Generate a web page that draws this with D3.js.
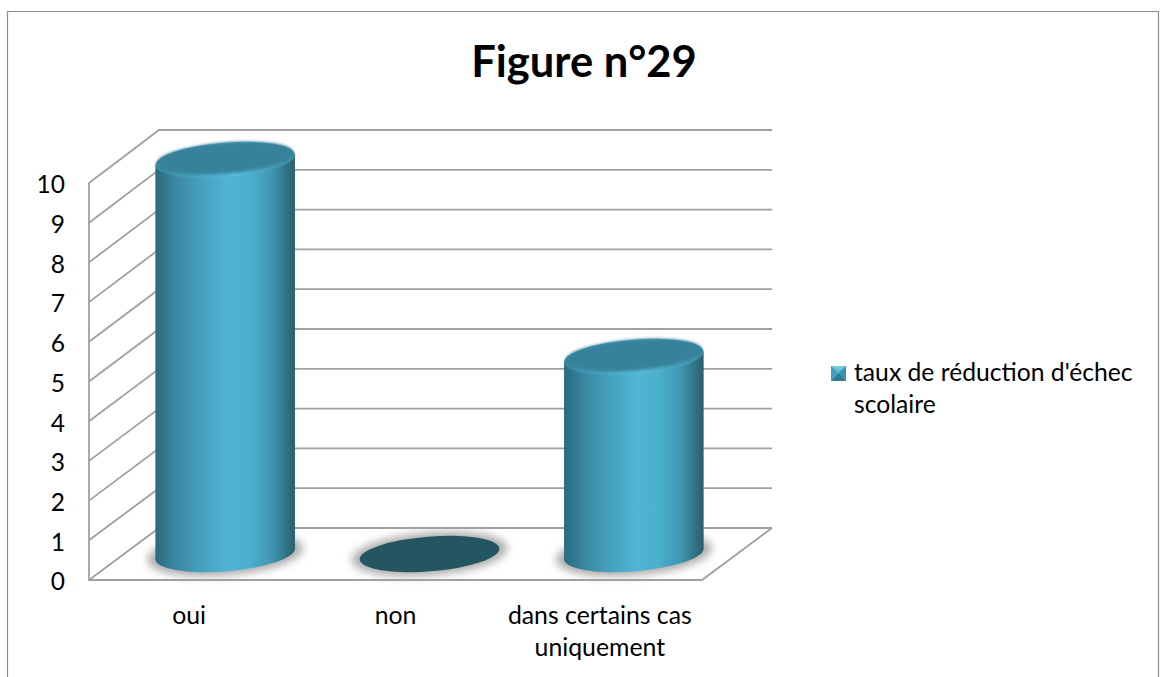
<!DOCTYPE html>
<html><head><meta charset="utf-8">
<script src="https://cdn.jsdelivr.net/npm/d3@7/dist/d3.min.js"></script>
<style>html,body{margin:0;padding:0;background:#fff}svg{display:block}text{font-family:Lato,"Open Sans",sans-serif;fill:#000}</style>
</head><body><svg id="c" width="1160" height="677"></svg>
<script>
const titleText = "Figure n°29";
const categories = ["oui", "non", "dans certains cas uniquement"];
const categoryLines = [["oui"], ["non"], ["dans certains cas", "uniquement"]];
const seriesName = ["taux de réduction d'échec", "scolaire"];
const values = [10, 0, 5];
const yTicks = [0,1,2,3,4,5,6,7,8,9,10];

const svg = d3.select("#c");
const W = 1160, H = 677;
const depthX = 70, x0 = 89, x1 = 702;
const yFront = d3.scaleLinear().domain([0,10]).range([580,183]);
const yBack  = d3.scaleLinear().domain([0,10]).range([528,130]);
const yMid   = d3.scaleLinear().domain([0,10]).range([554,160]);
const xBand  = d3.scaleBand().domain(categories).range([x0,x1]);
const xC = c => xBand(c) + xBand.bandwidth()/2;

// Defs
const defs = svg.append("defs");
const grad = defs.append("linearGradient").attr("id","cyl");
[[0,"#2b6a80"],[.05,"#307488"],[.16,"#3c8aa6"],[.35,"#47a3c0"],[.52,"#4fb5d3"],[.68,"#4ab0cd"],[.84,"#3f95b0"],[.93,"#327588"],[1,"#2a5e6e"]]
  .forEach(([o,c])=>grad.append("stop").attr("offset",o).attr("stop-color",c));
const rim = defs.append("linearGradient").attr("id","rim");
[[0,"#3a89a3"],[.55,"#55bedd"],[1,"#3a8aa4"]].forEach(([o,c])=>rim.append("stop").attr("offset",o).attr("stop-color",c));
defs.append("filter").attr("id","blur").attr("x","-30%").attr("y","-60%").attr("width","160%").attr("height","220%")
  .append("feGaussianBlur").attr("stdDeviation",4);
defs.append("filter").attr("id","soft").attr("x","-10%").attr("y","-20%").attr("width","120%").attr("height","140%")
  .append("feGaussianBlur").attr("stdDeviation",1.5);
const sw = defs.append("linearGradient").attr("id","swTop").attr("x1",0).attr("y1",0).attr("x2",0).attr("y2",1);
[[0,"#7fd0e6"],[1,"#4fb4d2"]].forEach(([o,c])=>sw.append("stop").attr("offset",o).attr("stop-color",c));

// Chart border
svg.append("path").attr("d",`M7.5,${H}V11.5H1158.5V${H}`).attr("fill","none").attr("stroke","#8c8c8c").attr("stroke-width",1.2);

// Title
svg.append("text").attr("x",584).attr("y",77).attr("text-anchor","middle")
  .attr("font-size",43.5).attr("font-weight",700).text(titleText);

// Walls and gridlines
const lineCol = "#a0a0a0";
const grid = svg.append("g").attr("fill","none").attr("stroke",lineCol).attr("stroke-width",1.8);
grid.selectAll("path.g").data(yTicks).join("path").attr("class","g")
  .attr("d",v=>`M${x0},${yFront(v)}L${x0+depthX},${yBack(v)}H${x1+depthX}`);
grid.append("path").attr("d",`M${x0},${yFront(10)}V${yFront(0)}H${x1}L${x1+depthX},${yBack(0)}`);

// Axes text
const yAxis = d3.axisLeft(yFront).tickValues(yTicks).tickSize(0).tickPadding(0).tickFormat(d3.format("d"));
const ya = svg.append("g").attr("transform","translate(65,2)").call(yAxis);
ya.select(".domain").remove();
ya.selectAll("text").attr("font-size",24.5);
ya.attr("font-family",null);

const xa = svg.append("g").selectAll("text").data(categories).join("text")
  .attr("text-anchor","middle").attr("font-size",24.8);
xa.each(function(c,i){
  d3.select(this).selectAll("tspan").data(categoryLines[i]).join("tspan")
    .attr("x",xC(c)-(i==0?2:0)).attr("y",(d,j)=>624+j*32).text(d=>d);
});

// Cylinders
const a = 70, b = 17.4, tilt = -4.6, t = tilt*Math.PI/180;
const th = Math.atan2(-b*Math.sin(t), a*Math.cos(t));
const ex = a*Math.cos(th)*Math.cos(t) - b*Math.sin(th)*Math.sin(t);
const ey = a*Math.cos(th)*Math.sin(t) + b*Math.sin(th)*Math.cos(t);
const bars = svg.append("g").selectAll("g").data(categories).join("g")
  .attr("transform",c=>`translate(${xC(c)+depthX/2-1},0)`);
const ell = (sel,cy,ra,rb,fill)=>sel.append("ellipse").attr("rx",ra).attr("ry",rb).attr("fill",fill)
  .attr("transform",`translate(0,${cy}) rotate(${tilt})`);

bars.each(function(c,i){
  const g = d3.select(this), v = values[i];
  const yb = yMid(0), yt = yMid(v);
  ell(g,yb,a+8,b+4,"#ababab").attr("filter","url(#blur)");
  if (v > 0) {
    g.append("path").attr("fill","url(#cyl)")
      .attr("d",`M${-ex},${yt-ey}L${ex},${yt+ey}L${ex},${yb+ey}A${a},${b} ${tilt} 0 1 ${-ex},${yb-ey}Z`);
    ell(g,yt,a,b,"url(#rim)");
    ell(g,yt-2,a-1.5,b-2,"#37819a").attr("filter","url(#soft)");
  } else {
    ell(g,yb,a,b,"#245661");
  }
});

// Legend
const lg = svg.append("g").attr("transform","translate(831,366)");
lg.append("rect").attr("width",15).attr("height",15).attr("fill","#3c8aa6");
lg.append("path").attr("d","M0,0H15L7.5,7.5Z").attr("fill","url(#swTop)");
lg.append("path").attr("d","M0,15H15L7.5,7.5Z").attr("fill","#2f7a90");
lg.append("path").attr("d","M0,0V15L7.5,7.5Z").attr("fill","#45a0bd");
lg.append("path").attr("d","M15,0V15L7.5,7.5Z").attr("fill","#3e90ac");
svg.append("g").selectAll("text").data(seriesName).join("text")
  .attr("x",854).attr("y",(d,i)=>381+i*32).attr("font-size",24.7).text(d=>d);
</script></body></html>
